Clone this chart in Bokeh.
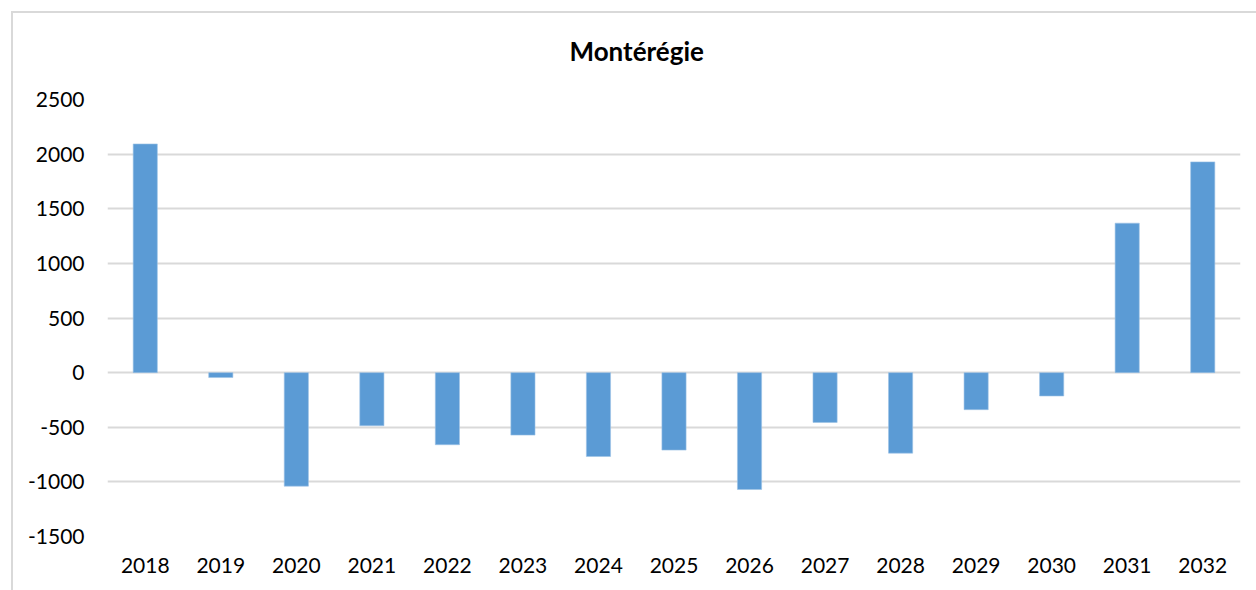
from bokeh.plotting import figure
from bokeh.models import ColumnDataSource, Range1d, FixedTicker
from bokeh.embed import file_html
from bokeh.resources import INLINE

years = ["2018", "2019", "2020", "2021", "2022", "2023", "2024", "2025",
         "2026", "2027", "2028", "2029", "2030", "2031", "2032"]
values = [2093, -45, -1039, -486, -660, -572, -768, -709, -1070, -456,
          -737, -339, -214, 1368, 1929]
y_ticks = [-1500, -1000, -500, 0, 500, 1000, 1500, 2000, 2500]
title_text = "Montérégie"

FONT = "Lato"
GRID = "#d9d9d9"

src = ColumnDataSource(dict(year=years, value=values))

p = figure(width=1256, height=590, x_range=years, y_range=Range1d(-1500, 2500),
           output_backend="svg", toolbar_location=None,
           title=title_text,
           min_border_left=107, min_border_right=16, min_border_top=99,
           min_border_bottom=54)
p.outline_line_color = None
p.background_fill_color = "white"
p.border_fill_color = None
p.styles = {
    "background": ("linear-gradient(#d9d9d9, #d9d9d9) 11px 11px / 2px 100% no-repeat, "
                   "linear-gradient(#d9d9d9, #d9d9d9) 11px 11px / 100% 2px no-repeat, "
                   "#ffffff"),
}

p.title.align = "left"
p.title.vertical_align = "top"
p.title.offset = 462
p.title.standoff = 62
p.title.text_font = FONT
p.title.text_font_style = "bold"
p.title.text_font_size = "26px"
p.title.text_color = "#000000"

p.vbar(x="year", top="value", bottom=0, width=0.32, source=src,
       fill_color="#5b9bd5", line_color="#9dc3e6", line_width=0.6)

p.yaxis.ticker = FixedTicker(ticks=y_ticks)
p.yaxis.major_label_overrides = {t: str(t) for t in y_ticks}
for ax in (p.xaxis[0], p.yaxis[0]):
    ax.axis_line_color = None
    ax.major_tick_line_color = None
    ax.minor_tick_line_color = None
    ax.major_tick_out = 0
    ax.major_tick_in = 0
    ax.major_label_text_font = FONT
    ax.major_label_text_font_size = "21px"
    ax.major_label_text_color = "#000000"
p.yaxis.major_label_standoff = 23
p.xaxis.major_label_standoff = 21

p.xgrid.grid_line_color = None
p.ygrid.grid_line_color = GRID
p.ygrid.grid_line_width = 2
p.ygrid.ticker = FixedTicker(ticks=y_ticks)

open("out.html", "w").write(file_html(p, INLINE))
